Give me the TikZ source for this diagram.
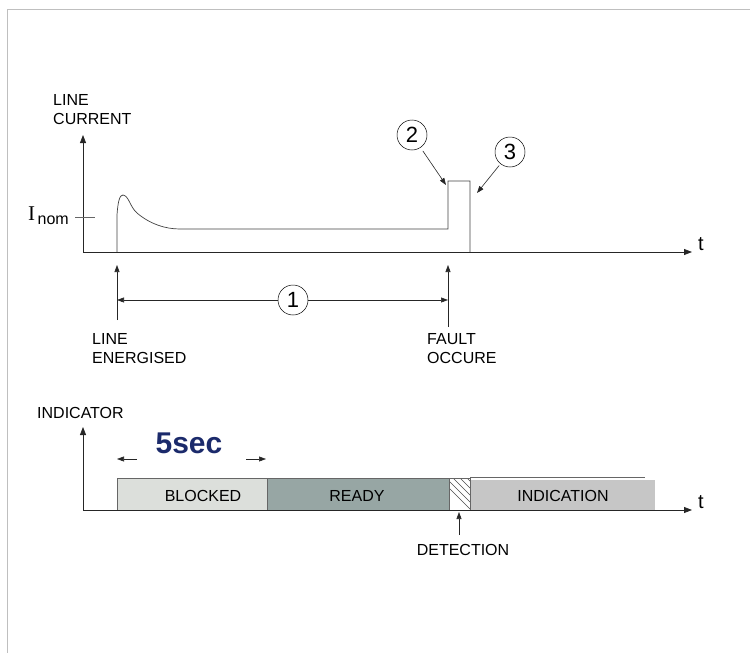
\documentclass[tikz,border=0pt]{standalone}
\usepackage{fontspec}
\setmainfont{Liberation Sans}
\newfontfamily\serifI{Liberation Serif}
\usepackage{xcolor}
\usepackage{tikz}
\usetikzlibrary{arrows.meta,positioning,calc}

\definecolor{blockedfill}{HTML}{DCDFDB}
\definecolor{readyfill}{HTML}{97A6A4}
\definecolor{indfill}{HTML}{C6C6C6}
\definecolor{secblue}{HTML}{1B2A6B}

\begin{document}
\begin{tikzpicture}[x=1pt, y=-1pt, inner sep=0pt, font=\fontsize{16}{19}\selectfont,
    axis/.style={line width=0.8pt, draw=black!85, -{Triangle[length=8pt,width=6pt]}},
    pointer/.style={line width=0.6pt, draw=black!85, -{Triangle[length=7pt,width=5pt]}},
    num/.style={draw, circle, line width=0.5pt, minimum size=30pt, font=\fontsize{22}{22}\selectfont},
    phase/.style={draw=black!60, line width=0.6pt},
    tlabel/.style={font=\fontsize{20}{20}\selectfont}]

    \useasboundingbox (0,0) rectangle (750,653);
    \draw[black!25] (7,653) -- (7,9) -- (750,9);

    % Line current
    \coordinate (o1) at (83,252);
    \coordinate (ytop1) at (83,135);
    \coordinate (xend1) at (692,252);
    \draw[axis] (o1) -- (ytop1);
    \draw[axis] (o1) -- (xend1);
    \node[tlabel] (t1) at (701,244) {t};
    \node[anchor=west, align=left] (curlbl) at (53,110) {LINE\\CURRENT};
    \node[anchor=base east] (inom) at (69,220) {{\serifI\fontsize{21}{21}\selectfont I}\,\raisebox{-4pt}{nom}};
    \draw[black!60, line width=0.6pt] (75,217) -- (95,217);
    \draw[black!75, line width=0.7pt] (117,252) -- (117,215)
        .. controls (118,200) and (120,195) .. (123,195)
        .. controls (129,196) and (130,207) .. (137,213)
        .. controls (150,224) and (165,229) .. (180,229)
        -- (448,229) -- (448,181) -- (470,181) -- (470,252);

    % Markers and durations
    \coordinate (entip) at (117,265);
    \coordinate (fltip) at (448,265);
    \draw[pointer] (117,320) -- (entip);
    \draw[pointer] (448,327) -- (fltip);
    \node[anchor=west, align=left] (energ) at (92,349) {LINE\\ENERGISED};
    \node[anchor=west, align=left] (fault) at (427,349) {FAULT\\OCCURE};
    \node[num] (n1) at (293,300) {1};
    \draw[pointer] (n1) -- (entip |- n1);
    \draw[pointer] (n1) -- (fltip |- n1);
    \node[num] (n2) at (412,135) {2};
    \coordinate (p2) at (446,185);
    \draw[pointer, shorten <=4pt] (n2) -- (p2);
    \node[num] (n3) at (510,152) {3};
    \coordinate (p3) at (477,193);
    \draw[pointer, shorten <=2pt] (n3) -- (p3);

    % Indicator
    \coordinate (o2) at (83,510);
    \coordinate (ytop2) at (83,427);
    \coordinate (xend2) at (692,510);
    \node[anchor=west] (indlbl) at (37,413) {INDICATOR};
    \draw[phase, fill=blockedfill] (117,478) rectangle (267,510);
    \draw[phase, fill=readyfill] (267,478) rectangle (449,510);
    \fill[indfill] (471,480) rectangle (655,510);
    \draw[phase] (470,477) -- (645,477);
    \begin{scope}
        \clip (449,478) rectangle (470,510);
        \foreach \k in {0,...,7}
            \draw[black!70, line width=0.5pt] (435+\k*7,474) -- ++(40,40);
    \end{scope}
    \draw[phase] (449,478) rectangle (470,510);
    \draw[axis] (o2) -- (ytop2);
    \draw[axis] (o2) -- (xend2);
    \node[tlabel] (t2) at (701,502) {t};
    \node (blocked) at (203,496) {BLOCKED};
    \node (ready) at (357,496) {READY};
    \node (indic) at (563,496) {INDICATION};
    \node[font=\fontsize{30}{30}\selectfont\bfseries, text=secblue] (five) at (189,443) {5sec};
    \coordinate (bl) at (117,459);
    \coordinate (br) at (266,459);
    \draw[pointer] (137,459) -- (bl);
    \draw[pointer] (246,459) -- (br);
    \node (detect) at (463,550) {DETECTION};
    \coordinate (dettip) at (459,512);
    \draw[pointer] (459,535) -- (dettip);
\end{tikzpicture}
\end{document}
